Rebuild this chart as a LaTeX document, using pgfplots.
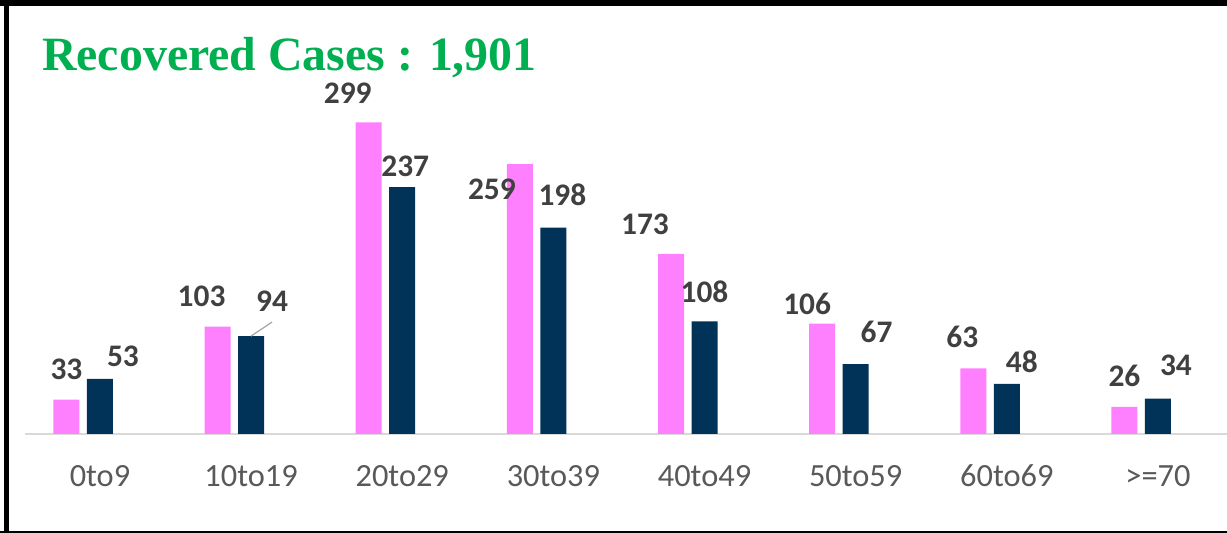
\documentclass[border=0pt]{standalone}
\usepackage{pgfplots}
\pgfplotsset{compat=1.18}
\usepackage{pgfplotstable}
\usepackage{fontspec}
\setmainfont{Carlito}
\newfontfamily\titlefont{Liberation Serif}
\definecolor{pinkc}{RGB}{255,128,255}
\definecolor{navyc}{RGB}{0,51,87}
\definecolor{greenc}{RGB}{0,176,80}
\definecolor{labc}{RGB}{64,64,64}
\definecolor{tickc}{RGB}{89,89,89}
\definecolor{linec}{RGB}{217,217,217}
\definecolor{leadc}{RGB}{166,166,166}

\pgfplotstableread{
x y dx dy
0 33 0 30
1 103 -16 30
2 299 -21 29
3 259 -28 -25
4 173 -26 29
5 106 -15 20
6 63 -11 31
7 26 0 31
}\pinkdata
\pgfplotstableread{
x y dx dy
0 53 23 22
1 94 21 35
2 237 3 21
3 198 9 33
4 108 0 30
5 67 21 32
6 48 15 22
7 34 18 33
}\navydata

\begin{document}
\begin{tikzpicture}
\begin{axis}[
  at={(25bp,99bp)}, anchor=south west,
  scale only axis,
  width=1202bp, height=333.4bp,
  xmin=-0.496, xmax=7.457,
  ymin=0, ymax=320,
  hide y axis,
  axis x line*=bottom,
  x axis line style={-, draw=linec, line width=2bp},
  xtick={0,...,7},
  xticklabels={0to9,10to19,20to29,30to39,40to49,50to59,60to69,{>=70}},
  major tick length=0pt,
  /pgf/number format/assume math mode=true,
  xticklabel style={font=\fontsize{32.5}{32.5}\selectfont, text=tickc, anchor=center, yshift=-42bp},
  clip=false,
  nodes near coords,
  nodes near coords style={font=\fontsize{31.5}{31.5}\selectfont\bfseries, text=labc, inner sep=0pt},
]
\addplot[ybar, bar width=26bp, bar shift=-33.5bp, fill=pinkc, draw=none,
  point meta=y,
  visualization depends on={\thisrow{dx} \as \dx},
  visualization depends on={\thisrow{dy} \as \dy},
  every node near coord/.append style={anchor=center, xshift=\dx bp-33.5bp, yshift=\dy bp}]
  table[x=x, y=y] {\pinkdata};
\addplot[ybar, bar width=26bp, bar shift=0bp, fill=navyc, draw=none,
  point meta=y,
  visualization depends on={\thisrow{dx} \as \dx},
  visualization depends on={\thisrow{dy} \as \dy},
  every node near coord/.append style={anchor=center, xshift=\dx bp, yshift=\dy bp}]
  table[x=x, y=y] {\navydata};
\draw[color=leadc, line width=1.2bp] (axis cs:1,94) -- ++(21bp,14bp);
\end{axis}
\node[anchor=base west, inner sep=0pt, text=greenc, font=\titlefont\fontsize{48}{48}\selectfont\bfseries] at (42bp,462bp) {Recovered Cases : 1,901};
\draw[line width=5bp] (6bp,0) -- (6bp,533bp);
\draw[line width=6bp] (0,530bp) -- (1227bp,530bp);
\draw[line width=1.5bp] (0,1bp) -- (1227bp,1bp);
\pgfresetboundingbox
\useasboundingbox (0,0) rectangle (1227bp,533bp);
\end{tikzpicture}
\end{document}
